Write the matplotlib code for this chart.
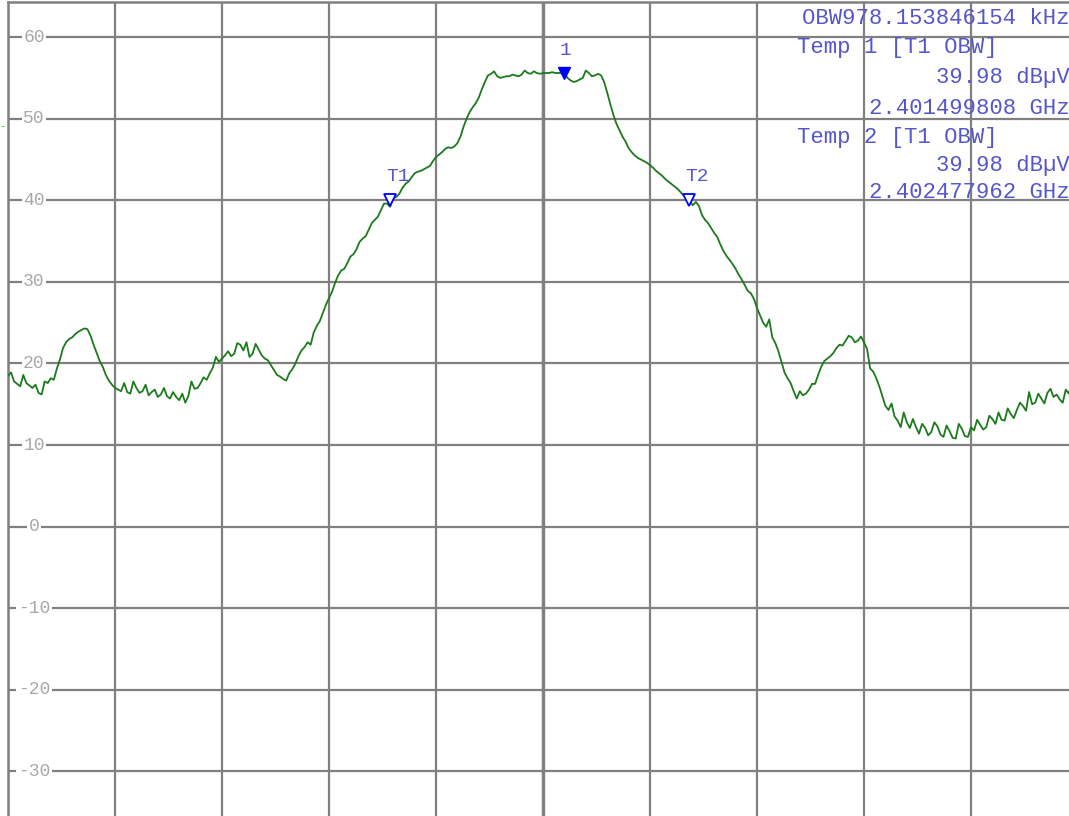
import numpy as np
import matplotlib
matplotlib.use('Agg')
import matplotlib.pyplot as plt
from matplotlib.transforms import blended_transform_factory

# sweep: 2.40025 .. 2.40375 GHz, 10 kHz steps (351 points), dBuV
f_start = 2.40025
f_stop = 2.40375
level = [
    18.5, 18.9, 17.8, 17.5, 17.2, 18.6, 17.6, 17.3, 17.0, 17.4,
    16.4, 16.2, 17.8, 17.6, 18.2, 18.0, 19.4, 20.5, 21.9, 22.6,
    23.0, 23.2, 23.6, 23.9, 24.1, 24.3, 24.2, 23.4, 22.3, 21.3,
    20.3, 19.6, 18.6, 17.9, 17.4, 17.0, 16.8, 16.6, 17.6, 16.5,
    16.3, 17.8, 17.0, 16.4, 16.6, 17.4, 16.1, 16.5, 16.8, 15.9,
    16.2, 17.0, 16.0, 15.7, 16.5, 15.9, 15.5, 16.3, 15.2, 16.0,
    17.8, 16.9, 17.0, 17.6, 18.3, 18.0, 18.8, 19.5, 20.8, 20.2,
    20.6, 21.0, 21.5, 20.9, 21.2, 22.5, 22.3, 21.6, 22.6, 20.8,
    21.2, 22.4, 21.7, 21.0, 20.6, 20.4, 19.8, 19.2, 18.6, 18.4,
    18.1, 17.9, 18.8, 19.3, 20.0, 20.9, 21.6, 22.0, 22.6, 22.3,
    23.8, 24.6, 25.2, 26.2, 27.2, 28.0, 28.8, 29.9, 30.8, 31.4,
    31.6, 32.3, 33.1, 33.4, 34.0, 34.9, 35.3, 35.6, 36.4, 37.2,
    37.6, 38.0, 38.8, 39.6, 39.6, 39.2, 40.3, 40.4, 40.8, 41.5,
    42.0, 42.3, 42.8, 43.3, 43.5, 43.6, 43.8, 44.0, 44.2, 44.8,
    45.3, 45.6, 45.9, 46.3, 46.5, 46.4, 46.6, 47.0, 47.8, 49.0,
    50.0, 50.8, 51.4, 51.9, 52.6, 53.6, 54.5, 55.3, 55.5, 55.8,
    55.2, 55.0, 55.1, 55.2, 55.2, 55.4, 55.3, 55.2, 55.4, 55.9,
    55.6, 55.5, 55.8, 55.6, 55.5, 55.6, 55.6, 55.6, 55.7, 55.6,
    55.6, 55.6, 55.6, 55.0, 54.7, 54.5, 54.6, 54.8, 55.0, 55.9,
    55.6, 55.2, 55.3, 55.5, 55.3, 54.5, 53.2, 51.8, 50.5, 49.4,
    48.6, 47.8, 47.2, 46.4, 45.9, 45.5, 45.2, 45.0, 44.8, 44.6,
    44.3, 44.0, 43.6, 43.3, 43.0, 42.6, 42.3, 42.0, 41.7, 41.4,
    41.0, 40.6, 40.4, 39.9, 39.4, 39.8, 39.3, 38.2, 37.6, 37.2,
    36.6, 36.0, 35.5, 34.6, 33.8, 33.2, 32.7, 32.2, 31.6, 30.9,
    30.3, 29.6, 28.9, 28.6, 27.9, 26.8, 25.9, 25.0, 24.5, 25.4,
    23.2, 22.5, 21.5, 20.2, 18.9, 18.2, 17.6, 16.6, 15.7, 16.6,
    16.1, 16.3, 16.8, 17.5, 17.5, 18.6, 19.6, 20.3, 20.6, 20.9,
    21.3, 21.9, 22.3, 22.2, 22.8, 23.4, 23.2, 22.6, 22.8, 23.3,
    22.6, 21.8, 19.4, 19.0, 18.2, 17.2, 16.0, 14.8, 14.3, 15.1,
    13.5, 13.0, 12.2, 14.0, 12.8, 12.1, 13.2, 12.2, 11.4, 12.6,
    12.1, 11.2, 11.6, 12.8, 12.3, 11.3, 11.0, 12.4, 11.7, 10.9,
    10.8, 12.6, 12.0, 11.1, 11.0, 12.2, 11.8, 13.1, 12.5, 11.9,
    12.2, 13.6, 13.2, 12.6, 14.0, 13.1, 13.0, 14.5, 13.8, 13.3,
    14.3, 15.2, 14.8, 14.2, 16.5, 15.0, 15.2, 16.3, 15.7, 15.1,
    16.4, 16.9, 15.9, 16.2, 15.6, 15.2, 16.8, 16.3, 17.7, 17.2,
    18.0,
]
freq = np.linspace(f_start, f_stop, len(level))

# markers
m1_idx = 182
t1_freq, t1_level = 2.401499808, 39.98
t2_freq, t2_level = 2.402477962, 39.98
obw_khz = 978.153846154

y_ticks = [60, 50, 40, 30, 20, 10, 0, -10, -20, -30]
y_bottom, y_top = -35.7, 64.3

grid_col = '#808080'
txt_col = '#5656cc'
mono = 'Liberation Mono'

W, H = 1069, 816
fig = plt.figure(figsize=(W / 100, H / 100), dpi=100)
fig.patch.set_facecolor('white')
ax = fig.add_axes([8 / W, -2 / H, 1070 / W, 816 / H])
ax.set_xlim(f_start, f_stop)
ax.set_ylim(y_bottom, y_top)

# graticule, 10 x 10 divisions
ax.set_xticks(np.linspace(f_start, f_stop, 11))
ax.set_yticks(y_ticks)
ax.tick_params(length=0, labelleft=False, labelbottom=False)
ax.grid(True, color=grid_col, lw=1.6, zorder=2)
ax.axvline((f_start + f_stop) / 2, color=grid_col, lw=2.4, zorder=2)
for s in ['right', 'bottom']:
    ax.spines[s].set_visible(False)
for s in ['left', 'top']:
    ax.spines[s].set_color(grid_col)
    ax.spines[s].set_linewidth(1.8)
ax.set_axisbelow(False)

# level labels sit on the horizontal lines
lab_tr = blended_transform_factory(ax.transAxes, ax.transData)
for v in y_ticks:
    ax.text(26 / 1070, v, str(v), transform=lab_tr, ha='center',
            va='center', fontsize=13, family=mono, color='#a8a8a8',
            zorder=3, bbox=dict(facecolor='white', edgecolor='none', pad=1.0))

# trace
ax.plot(freq, level, color='#1c7a1c', lw=1.3, zorder=4)

# marker 1 (filled) and the two OBW temp markers (hollow)
ax.plot(freq[m1_idx], level[m1_idx], marker='v', ms=9, color='#0000ff',
        mec='#0000ff', ls='none', zorder=5)
ax.annotate('1', (freq[m1_idx], level[m1_idx]), xytext=(1, 10),
            textcoords='offset points', ha='center', va='bottom',
            fontsize=14, family=mono, color=txt_col, zorder=5)
for name, fx, lv in [('T1', t1_freq, t1_level), ('T2', t2_freq, t2_level)]:
    ax.plot(fx, lv, marker='v', ms=8, mfc='white', mec='#0000ff', mew=1.3,
            ls='none', zorder=5)
    ax.annotate(name, (fx, lv), xytext=(6, 11), textcoords='offset points',
                ha='center', va='bottom', fontsize=14, family=mono,
                color=txt_col, zorder=5)

# readout block, under the graticule
rows = [
    ('OBW%.9f kHz' % obw_khz, 'right', 18),
    ('Temp 1 [T1 OBW]', 'left', 48),
    ('%.2f dB\u00b5V' % t1_level, 'right', 78),
    ('%.9f GHz' % t1_freq, 'right', 108),
    ('Temp 2 [T1 OBW]', 'left', 137),
    ('%.2f dB\u00b5V' % t2_level, 'right', 166),
    ('%.9f GHz' % t2_freq, 'right', 193),
]
for s, ha, yp in rows:
    xp = 797 if ha == 'left' else 1070
    fig.text(xp / W, 1 - yp / H, s, ha=ha, va='center', fontsize=16.0,
             family=mono, color=txt_col, zorder=1)

# small level pointer at the left edge
fig.text(0 / W, 1 - 126 / H, '-', color='#33cc33', fontsize=8,
         ha='left', va='center')

fig.savefig('out.png', dpi=100, facecolor='white')
